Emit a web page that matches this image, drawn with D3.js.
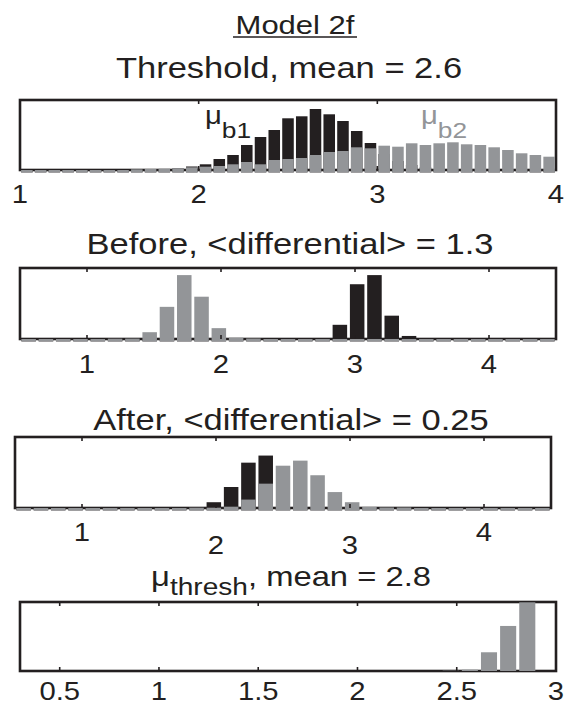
<!DOCTYPE html>
<html>
<head>
<meta charset="utf-8">
<script src="https://cdn.jsdelivr.net/npm/d3@7"></script>
<style>
  body { margin: 0; background: #fff; }
  text { font-family: "Liberation Sans", Arial, Helvetica, sans-serif; fill: #231f20; }
</style>
</head>
<body>
<svg id="chart"></svg>
<script>
// ---- data (counts, axis limit = 700) ----
const thrRange = [1, 4], thrBins = 39;
const thrB1 = [0, 0, 0, 0, 0, 0, 0, 0, 0, 0, 0, 15, 35, 57, 110, 150, 250, 330, 400, 517,
               537, 610, 557, 490, 390, 270, 160, 90, 50, 25, 10, 0, 0, 0, 0, 0, 0, 0, 0];
const thrB2 = [0, 0, 0, 0, 0, 0, 0, 0, 7, 10, 13, 17, 27, 33, 40, 57, 80, 57, 100, 110,
               120, 150, 180, 190, 227, 217, 243, 233, 267, 250, 267, 277, 257, 250, 227, 200, 167, 150, 133];
const thrTicks = [1, 2, 3, 4];

const difRange = [0.5, 4.5], difBins = 31;
const befB1 = [0, 0, 0, 0, 0, 0, 0, 0, 0, 0, 0, 0, 0, 0, 0, 0, 0, 0, 140, 540,
               630, 230, 30, 0, 0, 0, 0, 0, 0, 0, 0];
const befB2 = [0, 0, 0, 0, 0, 3, 4, 67, 317, 630, 417, 107, 13, 5, 0, 0, 0, 0, 0, 0,
               0, 0, 0, 0, 0, 0, 0, 0, 0, 0, 0];
const aftB1 = [0, 0, 0, 0, 0, 0, 0, 0, 0, 0, 0, 57, 207, 447, 517, 0, 0, 0, 0, 0,
               0, 0, 0, 0, 0, 0, 0, 0, 0, 0, 0];
const aftB2 = [0, 0, 0, 0, 0, 0, 0, 0, 0, 0, 3, 3, 13, 83, 240, 417, 467, 323, 157, 57,
               10, 5, 5, 0, 0, 0, 0, 0, 0, 0, 0];
const difTicks = [1, 2, 3, 4];

const muRange = [0.3, 3.0], muBins = 28;
const muVals = [0, 0, 0, 0, 0, 0, 0, 0, 0, 0, 0, 0, 0, 0, 0, 0, 0, 0, 0, 0,
                0, 0, 3, 13, 190, 457, 697, 0];
const muTicks = [0.5, 1, 1.5, 2, 2.5, 3];

const yMax = 700;
const black = "#231f20", gray = "#939598";
const SX = 1.17; // the original lettering is stretched sideways

const svg = d3.select("#chart").attr("width", 573).attr("height", 719);

// text helper, stretched horizontally like the source
function label(x, y, size, anchor, color) {
  return svg.append("text")
    .attr("transform", "translate(" + x + "," + y + ") scale(" + SX + ",1)")
    .attr("text-anchor", anchor)
    .attr("font-size", size)
    .style("fill", color || black);
}

function drawPanel(p) {
  var x = d3.scaleLinear().domain(p.range).range([p.x0, p.x1]);
  var y = d3.scaleLinear().domain([0, yMax]).range([p.yBot, p.yTop]);
  var w = (p.range[1] - p.range[0]) / p.bins;
  var g = svg.append("g");

  //axes box first, bars go over its bottom edge like in matlab
  g.append("rect")
    .attr("x", p.x0).attr("y", p.yTop)
    .attr("width", p.x1 - p.x0).attr("height", p.yBot - p.yTop)
    .attr("fill", "none").attr("stroke", black).attr("stroke-width", 2.6);

  var barW = (x(w) - x(0)) * 0.84;
  p.series.forEach(function(s) {
    g.selectAll(null)
      .data(s.values)
      .enter().append("rect")
      .attr("x", function(d, i) { return x(p.range[0] + (i + 0.5) * w) - barW / 2; })
      .attr("y", function(d) { return y(d); })
      .attr("width", barW)
      .attr("height", function(d) { return p.yBot + (p.dash ? 2.4 : 0) - y(d); })
      .attr("fill", s.color);
  });

  // inward ticks, top and bottom
  var inner = p.ticks.filter(function(t) { return x(t) > p.x0 + 2 && x(t) < p.x1 - 2; });
  [[p.yTop, 4], [p.yBot, -4]].forEach(function(e) {
    g.selectAll(null)
      .data(inner)
      .enter().append("line")
      .attr("x1", function(d) { return x(d); })
      .attr("x2", function(d) { return x(d); })
      .attr("y1", e[0]).attr("y2", e[0] + e[1])
      .attr("stroke", black).attr("stroke-width", 1.6);
  });

  p.ticks.forEach(function(t, i) {
    var ly = p.labelY[i % p.labelY.length];
    label(x(t), ly, 25, "middle").text(t);
  });
}

// titles
label(295, 34, 26.5, "middle").text("Model 2f");
svg.append("line").attr("x1", 233).attr("x2", 357).attr("y1", 37).attr("y2", 37)
  .attr("stroke", black).attr("stroke-width", 1.3);
label(289, 78, 29.5, "middle").text("Threshold, mean = 2.6");
label(290, 254, 29.5, "middle").text("Before, <differential> = 1.3");
label(291, 430, 29.5, "middle").text("After, <differential> = 0.25");

var t4 = label(291, 586, 28, "middle");
t4.append("tspan").text("\u03bc");
t4.append("tspan").attr("dy", 9).attr("font-size", 24).text("thresh");
t4.append("tspan").attr("dy", -9).text(", mean = 2.8");

drawPanel({ range: thrRange, bins: thrBins, x0: 20, x1: 556, yTop: 100, yBot: 170, dash: true,
  series: [{ values: thrB1, color: black }, { values: thrB2, color: gray }],
  ticks: thrTicks, labelY: [203] });

drawPanel({ range: difRange, bins: difBins, x0: 20, x1: 556, yTop: 268, yBot: 339, dash: true,
  series: [{ values: befB1, color: black }, { values: befB2, color: gray }],
  ticks: difTicks, labelY: [373] });

drawPanel({ range: difRange, bins: difBins, x0: 15, x1: 551, yTop: 437, yBot: 508, dash: true,
  series: [{ values: aftB1, color: black }, { values: aftB2, color: gray }],
  ticks: difTicks, labelY: [541, 554, 554, 541] });

drawPanel({ range: muRange, bins: muBins, x0: 20, x1: 556, yTop: 602, yBot: 671, dash: false,
  series: [{ values: muVals, color: gray }],
  ticks: muTicks, labelY: [700] });

// mu labels inside the top panel
var m1 = label(205, 124, 25, "start");
m1.append("tspan").text("\u03bc");
m1.append("tspan").attr("dy", 14).attr("font-size", 22.5).text("b1");
var m2 = label(421, 124, 25, "start", gray);
m2.append("tspan").text("\u03bc");
m2.append("tspan").attr("dy", 14).attr("font-size", 22.5).text("b2");
</script>
</body>
</html>
